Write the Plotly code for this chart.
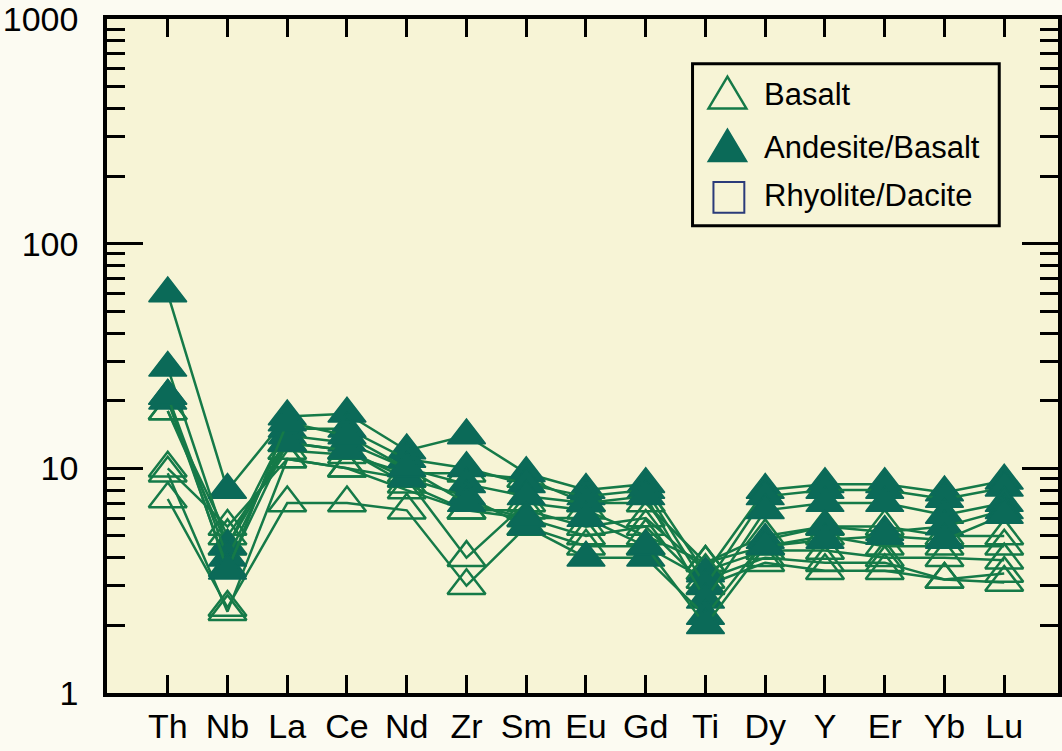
import plotly.graph_objects as go

elements = ["Th", "Nb", "La", "Ce", "Nd", "Zr", "Sm", "Eu", "Gd", "Ti", "Dy", "Y", "Er", "Yb", "Lu"]

# Andesite/Basalt samples (filled triangles)
andesite_1 = [60, 8.0, 17, 17.5, 12, 14, 9.5, 8.0, 8.5, 3.4, 8.0, 8.5, 8.5, 7.8, 8.8]
andesite_2 = [28, 4.5, 15, 15, 11, 10, 8.5, 7.5, 8.0, 3.0, 7.5, 8.0, 8.0, 7.3, 8.2]
andesite_3 = [21, 4.0, 14, 13, 10, 8.5, 7.5, 7.0, 7.5, 2.6, 6.5, 7.0, 7.0, 6.2, 7.0]
andesite_4 = [20, 3.6, 13, 12, 9.0, 7.5, 5.5, 4.0, 4.0, 2.2, 4.8, 5.5, 5.2, 5.5, 6.5]
andesite_5 = [21, 3.5, 16, 14, 10, 7.0, 6.0, 6.0, 4.5, 2.0, 4.5, 4.8, 5.0, 4.8, 6.2]

# Basalt samples (open triangles)
basalt_1 = [18, 5.0, 12, 11.5, 9.5, 9.5, 9.0, 7.0, 7.0, 3.8, 5.0, 5.5, 5.5, 5.0, 5.0]
basalt_2 = [10, 5.5, 11, 10, 9.0, 4.0, 7.0, 6.5, 5.0, 3.8, 4.5, 5.0, 4.5, 4.5, 4.5]
basalt_3 = [9.5, 2.3, 11, 10, 8.0, 6.5, 6.5, 5.5, 6.0, 3.5, 4.3, 4.3, 4.0, 4.0, 3.9]
basalt_4 = [7.3, 2.4, 7.0, 7.0, 6.5, 3.0, 5.5, 4.5, 4.5, 3.2, 4.0, 3.8, 3.8, 3.2, 3.4]
basalt_5 = [18, 4.5, 13, 12, 8.5, 6.5, 6.0, 5.0, 5.5, 3.0, 3.8, 3.5, 3.5, 3.2, 3.1]

andesite = [andesite_1, andesite_2, andesite_3, andesite_4, andesite_5]
basalt = [basalt_1, basalt_2, basalt_3, basalt_4, basalt_5]

legend_labels = ["Basalt", "Andesite/Basalt", "Rhyolite/Dacite"]
y_tick_vals = [1, 10, 100, 1000]
y_tick_text = ["1", "10", "100", "1000"]

LINE = "#157a48"
FILL = "#0b6a58"
NAVY = "#2b3b7a"
FONT = "Liberation Sans, Arial, sans-serif"

W, H = 1062, 751
L, R, T, B = 107, 0, 15, 58
PW, PH = W - L - R, H - T - B

def px(xp):
    return (xp - L) / PW

def py(yp):
    return (H - B - yp) / PH

fig = go.Figure()

for s in basalt:
    fig.add_trace(go.Scatter(
        x=elements, y=s, mode="lines+markers",
        line=dict(color=LINE, width=2.5),
        marker=dict(symbol="triangle-up-open", size=33, color=LINE, line=dict(width=2.5, color=LINE)),
        showlegend=False, hoverinfo="x+y"))

for s in andesite:
    fig.add_trace(go.Scatter(
        x=elements, y=s, mode="lines+markers",
        line=dict(color=LINE, width=2.5),
        marker=dict(symbol="triangle-up", size=33, color=FILL, line=dict(width=1.5, color=FILL)),
        showlegend=False, hoverinfo="x+y"))

shapes = []
annotations = []

# legend box
shapes.append(dict(type="rect", xref="paper", yref="paper",
                   x0=px(695), x1=px(1003), y0=py(223), y1=py(60),
                   line=dict(color="black", width=3), fillcolor="rgba(0,0,0,0)"))

def tri_path(cx, ybase, w, h):
    return "M {:.4f},{:.4f} L {:.4f},{:.4f} L {:.4f},{:.4f} Z".format(
        px(cx - w / 2), py(ybase), px(cx + w / 2), py(ybase), px(cx), py(ybase - h))

shapes.append(dict(type="path", xref="paper", yref="paper",
                   path=tri_path(730, 105, 38, 32), line=dict(color=LINE, width=2.5),
                   fillcolor="rgba(0,0,0,0)"))
shapes.append(dict(type="path", xref="paper", yref="paper",
                   path=tri_path(730, 158, 38, 32), line=dict(color=FILL, width=2),
                   fillcolor=FILL))
shapes.append(dict(type="rect", xref="paper", yref="paper",
                   x0=px(716), x1=px(747), y0=py(210), y1=py(179),
                   line=dict(color=NAVY, width=2), fillcolor="rgba(0,0,0,0)"))

for label, yc in zip(legend_labels, [91, 144, 193]):
    annotations.append(dict(text=label, xref="paper", yref="paper", x=px(765), y=py(yc),
                            xanchor="left", yanchor="middle", showarrow=False,
                            font=dict(family=FONT, size=31, color="black")))

fig.update_layout(
    width=W, height=H,
    margin=dict(l=L, r=R, t=T, b=B, pad=0),
    paper_bgcolor="#fcfbf2",
    plot_bgcolor="#f7f4d6",
    showlegend=False,
    shapes=shapes,
    annotations=annotations,
    font=dict(family=FONT, color="black"),
)

fig.update_xaxes(
    type="category", categoryorder="array", categoryarray=elements,
    range=[-61 / 60, 14.9],
    showgrid=False, zeroline=False,
    showline=True, linecolor="black", linewidth=3.5, mirror="ticks",
    ticks="inside", ticklen=18, tickwidth=3, tickcolor="black",
    tickfont=dict(family=FONT, size=34, color="black"),
    ticklabelstandoff=0,
)

fig.update_yaxes(
    type="log", range=[-0.0005, 3.0005],
    tickvals=y_tick_vals, ticktext=y_tick_text,
    showgrid=False, zeroline=False,
    showline=True, linecolor="black", linewidth=3.5, mirror="ticks",
    ticks="inside", ticklen=36, tickwidth=3, tickcolor="black",
    minor=dict(ticks="inside", ticklen=18, tickwidth=3, tickcolor="black",
               tickvals=[m * 10 ** d for d in range(3) for m in range(2, 10)], showgrid=False),
    tickfont=dict(family=FONT, size=34, color="black"),
    ticklabelstandoff=18,
    ticklabeloverflow="allow",
)

fig.write_html("out.html", config={"displayModeBar": False},
               post_script="document.body.style.margin='0';document.body.style.padding='0';")
